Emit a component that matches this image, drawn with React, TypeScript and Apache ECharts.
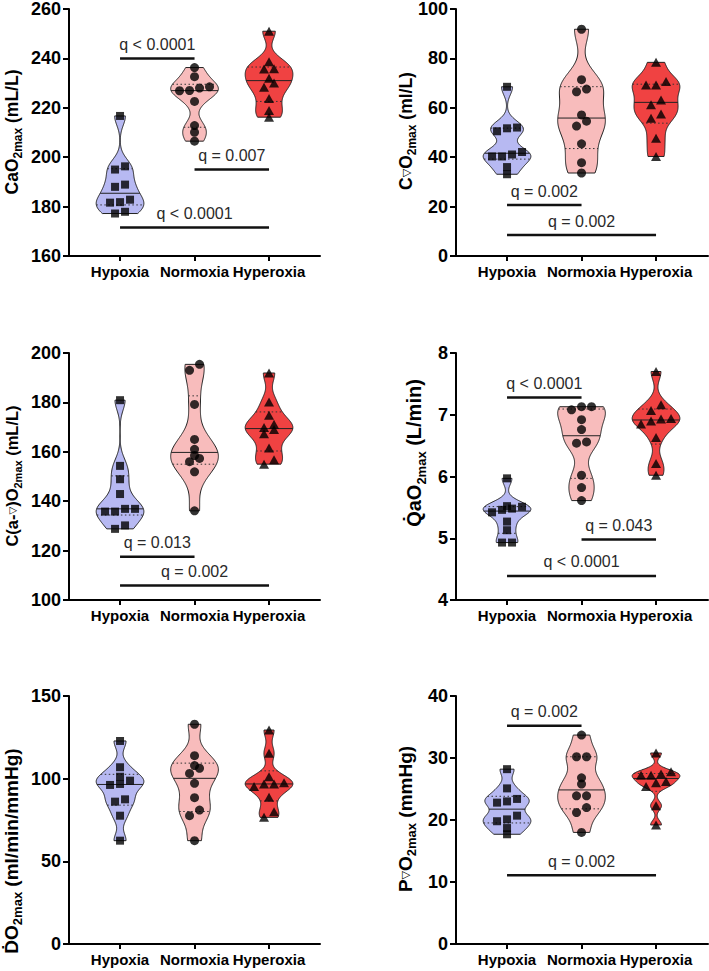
import React, { useEffect, useRef } from "react";
import * as echarts from "echarts";

// ---- groups ----
const groups = ["Hypoxia", "Normoxia", "Hyperoxia"];
const groupFill = ["#B7B9F2", "#F8BCBC", "#F04242"];
const groupSymbol = ["rect", "circle", "triangle"];
const groupSymbolSize: (number | number[])[] = [8, 9, [10, 9]];

// ---- CaO2max (mL/L) ----
const caO2Hypoxia = [216.7, 196.3, 195.0, 188.9, 188.0, 182.8, 181.8, 181.6, 177.9, 177.2];
const caO2Normoxia = [236.3, 232.6, 228.5, 228.0, 227.0, 226.9, 222.6, 212.8, 210.1, 206.5];
const caO2Hyperoxia = [251.0, 238.6, 235.8, 235.7, 232.0, 230.0, 228.3, 223.8, 218.9, 216.2];
const caO2Axis = [160, 260, 20];
const caO2Brackets = [
  { from: 0, to: 1, y: 240, label: "q < 0.0001" },
  { from: 1, to: 2, y: 195, label: "q = 0.007" },
  { from: 0, to: 2, y: 171.5, label: "q < 0.0001" },
];

// ---- CvO2max (ml/L) ----
const cvO2Hypoxia = [68.5, 52.0, 51.7, 50.5, 42.1, 41.1, 40.3, 40.3, 36.0, 33.1];
const cvO2Normoxia = [91.8, 71.4, 67.6, 66.5, 57.1, 54.6, 52.6, 45.4, 37.8, 33.6];
const cvO2Hyperoxia = [78.4, 70.6, 69.2, 69.2, 63.2, 61.2, 57.5, 55.8, 47.7, 40.3];
const cvO2Axis = [0, 100, 20];
const cvO2Brackets = [
  { from: 0, to: 1, y: 20.6, label: "q = 0.002" },
  { from: 0, to: 2, y: 8.5, label: "q = 0.002" },
];

// ---- C(a-v)O2max (mL/L) ----
const avO2Hypoxia = [180.9, 154.3, 148.9, 142.9, 136.9, 136.9, 135.8, 135.8, 130.2, 128.8];
const avO2Normoxia = [195.4, 193.0, 179.2, 165.0, 161.0, 158.5, 157.3, 156.0, 151.9, 136.1];
const avO2Hyperoxia = [191.9, 180.2, 174.8, 171.2, 169.8, 169.0, 167.3, 161.5, 156.8, 155.0];
const avO2Axis = [100, 200, 20];
const avO2Brackets = [
  { from: 0, to: 1, y: 117.5, label: "q = 0.013" },
  { from: 0, to: 2, y: 105.9, label: "q = 0.002" },
];

// ---- QaO2max (L/min) ----
const qaO2Hypoxia = [5.97, 5.52, 5.51, 5.48, 5.46, 5.42, 5.27, 5.13, 4.93, 4.93];
const qaO2Normoxia = [7.13, 7.13, 7.08, 6.92, 6.76, 6.56, 6.54, 6.02, 5.82, 5.61];
const qaO2Hyperoxia = [7.7, 7.16, 7.07, 6.94, 6.93, 6.9, 6.85, 6.63, 6.21, 6.02];
const qaO2Axis = [4, 8, 1];
const qaO2Brackets = [
  { from: 0, to: 1, y: 7.28, label: "q < 0.0001" },
  { from: 1, to: 2, y: 4.98, label: "q = 0.043" },
  { from: 0, to: 2, y: 4.39, label: "q < 0.0001" },
];

// ---- DO2max (ml/min/mmHg) ----
const dO2Hypoxia = [122.8, 106.9, 101.2, 98.8, 96.8, 96.2, 87.5, 86.1, 77.6, 62.5];
const dO2Normoxia = [132.9, 113.9, 107.9, 106.3, 103.2, 97.2, 88.5, 81.0, 77.6, 62.5];
const dO2Hyperoxia = [129.4, 115.3, 101.2, 97.6, 96.8, 96.8, 95.2, 88.7, 80.0, 76.6];
const dO2Axis = [0, 150, 50];
const dO2Brackets: { from: number; to: number; y: number; label: string }[] = [];

// ---- PvO2max (mmHg) ----
const pvO2Hypoxia = [28.2, 25.1, 23.4, 23.0, 22.8, 20.7, 20.1, 19.8, 18.7, 17.7];
const pvO2Normoxia = [33.7, 30.2, 30.2, 26.8, 25.8, 23.9, 23.9, 22.0, 21.2, 18.0];
const pvO2Hyperoxia = [30.8, 27.8, 27.4, 27.2, 27.2, 26.2, 26.0, 25.4, 22.3, 19.2];
const pvO2Axis = [0, 40, 10];
const pvO2Brackets = [
  { from: 0, to: 1, y: 35.2, label: "q = 0.002" },
  { from: 0, to: 2, y: 11.1, label: "q = 0.002" },
];

const FONT = '"Liberation Sans", Arial, Helvetica, sans-serif';
const PX_PER_GROUP = 74.5; // horizontal pixels between group centres
const X_MIN = 0.315;
const HALF_WIDTH = 0.32; // violin half width in x units

type Panel = {
  sets: number[][];
  axis: number[];
  brackets: { from: number; to: number; y: number; label: string }[];
  title: string;
  titleSize: number;
  titlePos: [number, number];
  grid: { left: number; top: number; width: number; height: number };
};

const vbar = "{t|▽}";

const panels: Panel[] = [
  {
    sets: [caO2Hypoxia, caO2Normoxia, caO2Hyperoxia],
    axis: caO2Axis,
    brackets: caO2Brackets,
    title: "{m|CaO}{s|2max}{m| (mL/L)}",
    titleSize: 17.5,
    titlePos: [12, 132],
    grid: { left: 69, top: 8, width: 251, height: 248 },
  },
  {
    sets: [cvO2Hypoxia, cvO2Normoxia, cvO2Hyperoxia],
    axis: cvO2Axis,
    brackets: cvO2Brackets,
    title: "{m|C}" + vbar + "{m|O}{s|2max}{m| (ml/L)}",
    titleSize: 17.5,
    titlePos: [406, 131],
    grid: { left: 456, top: 8, width: 252, height: 248 },
  },
  {
    sets: [avO2Hypoxia, avO2Normoxia, avO2Hyperoxia],
    axis: avO2Axis,
    brackets: avO2Brackets,
    title: "{m|C(a-}" + vbar + "{m|)O}{s|2max}{m| (mL/L)}",
    titleSize: 16.5,
    titlePos: [12, 476],
    grid: { left: 69, top: 353, width: 251, height: 247 },
  },
  {
    sets: [qaO2Hypoxia, qaO2Normoxia, qaO2Hyperoxia],
    axis: qaO2Axis,
    brackets: qaO2Brackets,
    title: "{m|Q\u0307aO}{s|2max}{m| (L/min)}",
    titleSize: 20,
    titlePos: [414, 453],
    grid: { left: 456, top: 353, width: 252, height: 247 },
  },
  {
    sets: [dO2Hypoxia, dO2Normoxia, dO2Hyperoxia],
    axis: dO2Axis,
    brackets: dO2Brackets,
    title: "{m|D\u0307O}{s|2max}{m| (ml/min/mmHg)}",
    titleSize: 19,
    titlePos: [11, 851],
    grid: { left: 69, top: 696, width: 251, height: 248 },
  },
  {
    sets: [pvO2Hypoxia, pvO2Normoxia, pvO2Hyperoxia],
    axis: pvO2Axis,
    brackets: pvO2Brackets,
    title: "{m|P}" + vbar + "{m|O}{s|2max}{m| (mmHg)}",
    titleSize: 19,
    titlePos: [405, 819],
    grid: { left: 456, top: 696, width: 252, height: 248 },
  },
];

// ---- statistics helpers ----
function quantile(sorted: number[], p: number) {
  const n = sorted.length;
  const pos = p * (n + 1);
  if (pos <= 1) return sorted[0];
  if (pos >= n) return sorted[n - 1];
  const i = Math.floor(pos);
  return sorted[i - 1] + (pos - i) * (sorted[i] - sorted[i - 1]);
}

function violinShape(values: number[]) {
  const sorted = [...values].sort((a, b) => a - b);
  const n = sorted.length;
  const mean = sorted.reduce((a, b) => a + b, 0) / n;
  const sd = Math.sqrt(sorted.reduce((a, b) => a + (b - mean) * (b - mean), 0) / (n - 1));
  const q1 = quantile(sorted, 0.25);
  const q3 = quantile(sorted, 0.75);
  const med = quantile(sorted, 0.5);
  const spread = Math.min(sd, (q3 - q1) / 1.34) || sd;
  const h = 0.6 * 0.9 * spread * Math.pow(n, -0.2);
  const dens = (y: number) =>
    sorted.reduce((a, v) => a + Math.exp(-0.5 * ((y - v) / h) ** 2), 0);
  const lo = sorted[0];
  const hi = sorted[n - 1];
  const steps = 140;
  const ys: number[] = [];
  const ds: number[] = [];
  for (let i = 0; i <= steps; i++) {
    const y = lo + ((hi - lo) * i) / steps;
    ys.push(y);
    ds.push(dens(y));
  }
  const maxD = Math.max(...ds);
  return {
    ys,
    w: ds.map((d) => d / maxD),
    at: (y: number) => dens(y) / maxD,
    q1,
    q3,
    med,
  };
}

// Points that sit on (nearly) the same level are spread side by side.
function spreadPoints(values: number[], cx: number, pxPerUnitY: number) {
  const order = values.map((_, i) => i).sort((a, b) => values[a] - values[b]);
  const rows: number[][] = [];
  for (const i of order) {
    const last = rows[rows.length - 1];
    if (last && (values[i] - values[last[0]]) * pxPerUnitY < 6) last.push(i);
    else rows.push([i]);
  }
  const step = 10 / PX_PER_GROUP;
  const pts: number[][] = [];
  rows.forEach((r) =>
    r.forEach((i, k) => pts.push([cx + (k - (r.length - 1) / 2) * step, values[i]]))
  );
  return pts;
}

function buildOption() {
  const grid: any[] = [];
  const xAxis: any[] = [];
  const yAxis: any[] = [];
  const series: any[] = [];
  const graphic: any[] = [];

  panels.forEach((p, pi) => {
    grid.push({ ...p.grid, containLabel: false });
    xAxis.push({
      type: "value",
      gridIndex: pi,
      min: X_MIN,
      max: X_MIN + p.grid.width / PX_PER_GROUP,
      axisLine: { show: true, onZero: false, lineStyle: { color: "#000", width: 2 } },
      axisTick: {
        show: true,
        customValues: [1, 2, 3],
        length: 5,
        lineStyle: { color: "#000", width: 2 },
      },
      axisLabel: {
        show: true,
        customValues: [1, 2, 3],
        formatter: (v: number) => groups[Math.round(v) - 1] ?? "",
        fontFamily: FONT,
        fontWeight: "bold",
        fontSize: 15,
        color: "#000",
        margin: 8,
      },
      splitLine: { show: false },
    });
    yAxis.push({
      type: "value",
      gridIndex: pi,
      min: p.axis[0],
      max: p.axis[1],
      interval: p.axis[2],
      axisLine: { show: true, onZero: false, lineStyle: { color: "#000", width: 2 } },
      axisTick: { show: true, length: 6, lineStyle: { color: "#000", width: 2 } },
      axisLabel: {
        fontFamily: FONT,
        fontWeight: "bold",
        fontSize: 18,
        color: "#000",
        margin: 8,
      },
      splitLine: { show: false },
    });

    const shapes = p.sets.map(violinShape);
    series.push({
      type: "custom",
      xAxisIndex: pi,
      yAxisIndex: pi,
      z: 1,
      clip: false,
      data: shapes.map((s, g) => [g + 1, s.med]),
      encode: { x: 0, y: 1 },
      renderItem: (params: any, api: any) => {
        const g = params.dataIndex;
        const s = shapes[g];
        const cx = g + 1;
        const left: number[][] = [];
        const right: number[][] = [];
        s.ys.forEach((y, i) => {
          left.push(api.coord([cx - HALF_WIDTH * s.w[i], y]));
          right.push(api.coord([cx + HALF_WIDTH * s.w[i], y]));
        });
        const pts = left.concat(right.reverse());
        const seg = (y: number, dotted: boolean) => {
          const w = s.at(y);
          const a = api.coord([cx - HALF_WIDTH * w, y]);
          const b = api.coord([cx + HALF_WIDTH * w, y]);
          return {
            type: "line",
            shape: { x1: a[0], y1: a[1], x2: b[0], y2: b[1] },
            style: dotted
              ? { stroke: "#333", lineWidth: 1, lineDash: [1.5, 2.5] }
              : { stroke: "#222", lineWidth: 1 },
          };
        };
        return {
          type: "group",
          children: [
            {
              type: "polygon",
              shape: { points: pts },
              style: { fill: groupFill[g], stroke: "#222", lineWidth: 1 },
            },
            seg(s.q1, true),
            seg(s.q3, true),
            seg(s.med, false),
          ],
        };
      },
    });

    const pxPerUnitY = p.grid.height / (p.axis[1] - p.axis[0]);
    p.sets.forEach((vals, g) => {
      series.push({
        type: "scatter",
        xAxisIndex: pi,
        yAxisIndex: pi,
        z: 3,
        symbol: groupSymbol[g],
        symbolSize: groupSymbolSize[g],
        itemStyle: { color: "#000" },
        data: spreadPoints(vals, g + 1, pxPerUnitY),
      });
    });

    if (p.brackets.length) {
      series.push({
        type: "custom",
        xAxisIndex: pi,
        yAxisIndex: pi,
        z: 4,
        clip: false,
        data: p.brackets.map((b) => [b.from + 1, b.to + 1, b.y]),
        encode: { x: [0, 1], y: 2 },
        renderItem: (params: any, api: any) => {
          const b = p.brackets[params.dataIndex];
          const a = api.coord([b.from + 1, b.y]);
          const c = api.coord([b.to + 1, b.y]);
          return {
            type: "group",
            children: [
              {
                type: "line",
                shape: { x1: a[0], y1: a[1], x2: c[0], y2: c[1] },
                style: { stroke: "#111", lineWidth: 2.5 },
              },
              {
                type: "text",
                x: (a[0] + c[0]) / 2,
                y: a[1] - 6,
                style: {
                  text: b.label,
                  fill: "#2a2a2a",
                  fontSize: 16,
                  fontFamily: FONT,
                  align: "center",
                  verticalAlign: "bottom",
                },
              },
            ],
          };
        },
      });
    }

    const fs = p.titleSize;
    const subFs = Math.round(fs * 0.66);
    const lh = Math.round(fs * 1.33);
    graphic.push({
      type: "text",
      x: p.titlePos[0],
      y: p.titlePos[1],
      rotation: Math.PI / 2,
      style: {
        text: p.title,
        align: "center",
        verticalAlign: "middle",
        fill: "#000",
        rich: {
          m: {
            fontFamily: FONT,
            fontWeight: "bold",
            fontSize: fs,
            lineHeight: lh,
            verticalAlign: "middle",
            fill: "#000",
          },
          s: {
            fontFamily: FONT,
            fontWeight: "bold",
            fontSize: subFs,
            lineHeight: subFs,
            verticalAlign: "bottom",
            fill: "#000",
          },
          t: {
            fontFamily: '"DejaVu Sans", sans-serif',
            fontSize: Math.round(fs * 0.6),
            lineHeight: Math.round(fs * 0.6),
            verticalAlign: "middle",
            fill: "#000",
          },
        },
      },
    });
  });

  return {
    animation: false,
    backgroundColor: "#fff",
    grid,
    xAxis,
    yAxis,
    series,
    graphic,
  };
}

export default function App() {
  const ref = useRef<HTMLDivElement>(null);
  useEffect(() => {
    const chart = echarts.init(ref.current!, undefined, { renderer: "svg" });
    chart.setOption(buildOption() as any);
    return () => chart.dispose();
  }, []);
  return (
    <div
      ref={ref}
      style={{ position: "absolute", left: 0, top: 0, width: 709, height: 971, background: "#fff" }}
    />
  );
}
